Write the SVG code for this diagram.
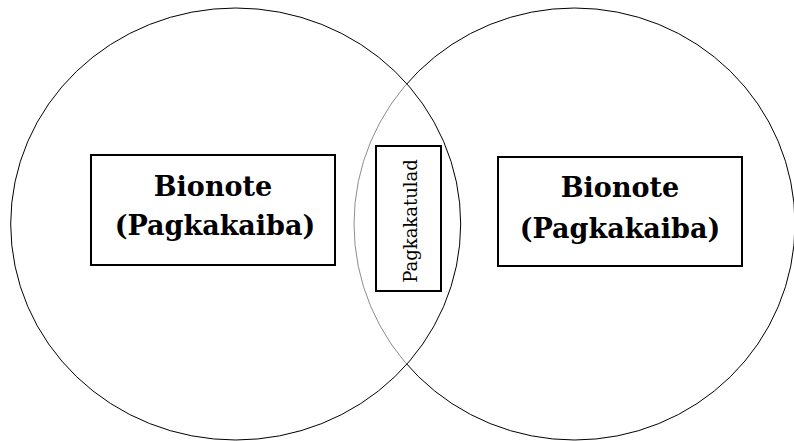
<svg xmlns="http://www.w3.org/2000/svg" width="794" height="441" viewBox="0 0 794 441">
<style>
.circ{fill:none;stroke:#000;stroke-width:1}
.box{fill:#fff;stroke:#000;stroke-width:2}
.big{font-family:"DejaVu Serif","Liberation Serif",serif;font-weight:bold;font-size:27px;fill:#000;text-anchor:middle}
.small{font-family:"DejaVu Serif","Liberation Serif",serif;font-size:18px;fill:#000;text-anchor:middle}
</style>
<rect width="794" height="441" fill="#fff"/>
<g id="circle-right">
<ellipse class="circ" cx="574.5" cy="224" rx="220.5" ry="216"/>
</g>
<g id="circle-left">
<ellipse cx="235.7" cy="224" rx="225" ry="216" fill="#fff" fill-opacity="0.55" stroke="#000" stroke-width="1"/>
</g>
<g id="connectors"></g>
<g id="left-box">
<rect class="box" x="91" y="155" width="244" height="110"/>
<text class="big" x="213" y="196">Bionote</text>
<text class="big" x="215" y="235">(Pagkakaiba)</text>
</g>
<g id="right-box">
<rect class="box" x="498" y="157" width="244" height="109"/>
<text class="big" x="620" y="197">Bionote</text>
<text class="big" x="620" y="238">(Pagkakaiba)</text>
</g>
<g id="middle-box">
<rect class="box" x="376" y="146" width="65" height="145"/>
<text class="small" transform="translate(417,221) rotate(-90)" x="0" y="0">Pagkakatulad</text>
</g>
</svg>
